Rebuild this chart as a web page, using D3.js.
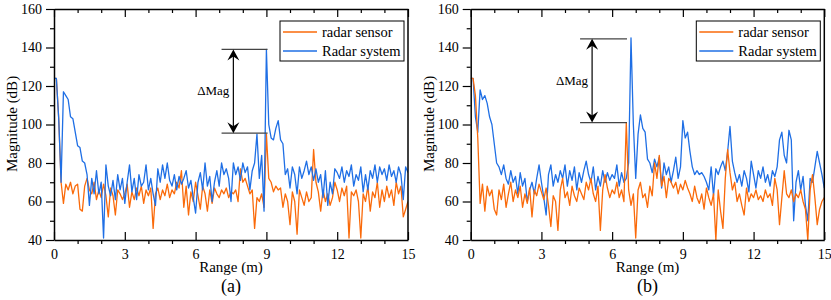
<!DOCTYPE html>
<html>
<head>
<meta charset="utf-8">
<script src="https://cdn.jsdelivr.net/npm/d3@7"></script>
<style>
  body { margin: 0; background: #fff; }
  svg { display: block; }
  svg text { font-family: "Liberation Serif", serif; }
</style>
</head>
<body>
<div id="chart"></div>
<script>
const rangeTicks = [0, 3, 6, 9, 12, 15]
const rangeMinor = [1, 2, 4, 5, 7, 8, 10, 11, 13, 14]
const magTicks = [40, 60, 80, 100, 120, 140, 160]
const magMinor = [50, 70, 90, 110, 130, 150]
const seriesNames = ['radar sensor', 'Radar system']
const panelLabels = ['(a)', '(b)']

// range samples, metres (0.0 ... 15.0 every 0.1 m)
const ranges = d3.range(151).map(i => i / 10)

// magnitude (dB), panel (a)
const sensorA = [
  124,124,103,70,59,69,66,70,64,68,
  69,56,55,68,72,66,64,70,61,66,
  62,69,63,52,67,63,53,66,64,61,
  64,69,57,65,61,67,63,68,59,66,
  63,67,46,64,67,61,66,63,69,62,
  66,64,70,67,76,57,68,53,65,60,
  70,63,56,68,64,55,66,59,67,64,
  62,66,64,67,62,65,64,66,60,77,
  70,72,68,64,66,46,62,60,64,57,
  95,72,70,65,68,66,67,57,64,60,
  48,65,60,43,66,62,58,65,60,62,
  87,70,65,55,66,60,64,58,62,70,
  66,60,67,63,68,41,65,63,66,60,
  41,64,60,68,55,65,62,70,57,66,
  60,68,62,66,58,70,64,68,52,56,
  60
]
const systemA = [
  124,124,103,70,117,115,113,104,103,96,
  89,88,81,80,74,58,72,64,76,64,
  70,41,79,68,63,71,61,74,66,72,
  59,70,79,65,72,61,74,68,70,79,
  66,72,64,58,77,70,79,72,80,71,
  68,74,66,73,69,72,76,67,71,62,
  54,70,75,66,80,68,73,60,70,76,
  68,80,74,77,72,60,80,74,78,71,
  80,75,78,66,76,80,95,72,84,55,
  139,100,93,92,98,102,92,90,74,77,
  67,78,74,64,78,72,76,81,74,78,
  71,77,70,74,62,76,58,70,64,77,
  75,72,78,70,76,73,79,68,74,71,
  78,65,74,66,76,72,79,70,78,74,
  77,71,79,73,76,70,78,74,61,78,
  75
]

// magnitude (dB), panel (b)
const sensorB = [
  124,124,115,93,59,69,55,68,63,66,
  56,53,66,61,69,57,64,70,60,66,
  62,68,57,64,59,67,52,66,63,69,
  65,61,67,58,47,63,60,45,66,72,
  62,65,58,68,63,60,67,64,61,70,
  66,72,64,60,68,45,66,74,67,62,
  66,64,70,62,66,60,101,66,58,64,
  41,66,70,62,64,57,68,63,80,72,
  84,68,73,62,72,70,67,70,64,69,
  66,71,67,64,60,68,62,59,64,56,
  67,62,58,64,40,66,55,46,72,87,
  75,66,70,60,64,58,53,67,60,64,
  62,66,61,63,60,66,62,64,58,72,
  66,48,62,76,64,62,66,60,64,62,
  66,60,56,40,66,74,62,48,56,60,
  62
]
const systemB = [
  124,124,104,96,118,113,115,111,104,100,
  90,80,78,74,79,72,69,76,70,73,
  64,75,68,72,60,66,70,64,72,79,
  70,62,53,74,79,68,74,70,76,72,
  79,68,76,71,78,66,75,70,76,81,
  74,70,78,66,73,68,76,70,75,71,
  74,72,79,68,75,70,72,80,145,100,
  72,95,105,98,96,82,80,75,82,78,
  83,67,80,74,78,70,76,83,72,78,
  102,93,96,86,78,74,76,74,75,73,
  70,66,78,63,77,74,78,81,76,86,
  99,81,75,70,74,68,76,72,65,81,
  74,67,76,72,78,70,74,68,76,73,
  78,92,96,84,80,97,92,50,70,76,
  66,73,58,50,72,70,78,86,80,74,
  67
]

// ΔMag marker: top dB, bottom dB, from m, to m, arrow at m
const deltaA = [139, 95.5, 7.1, 9.05, 7.6]
const deltaB = [144.5, 101, 4.64, 6.63, 5.15]

const orange = '#fa6a0a'
const blue = '#1f6fe5'
const serif = '"Liberation Serif", serif'

const svg = d3.select('#chart').append('svg')
  .attr('width', 831)
  .attr('height', 300)

const panels = [
  { id: 'a', left: 54, right: 408, sensor: sensorA, system: systemA, delta: deltaA, systemOnTop: true, label: panelLabels[0] },
  { id: 'b', left: 470.7, right: 824.3, sensor: sensorB, system: systemB, delta: deltaB, systemOnTop: false, label: panelLabels[1] }
]

panels.forEach(p => {
  const x = d3.scaleLinear().domain([0, 15]).range([p.left, p.right])
  const y = d3.scaleLinear().domain([40, 160]).range([240, 9])
  const g = svg.append('g')

  g.append('clipPath')
    .attr('id', 'clip-' + p.id)
    .append('rect')
      .attr('x', p.left)
      .attr('y', 9)
      .attr('width', p.right - p.left)
      .attr('height', 231)

  const line = d3.line()
    .x((d, i) => x(ranges[i]))
    .y(d => y(d))

  const layers = p.systemOnTop
    ? [[p.sensor, orange], [p.system, blue]]
    : [[p.system, blue], [p.sensor, orange]]

  g.append('g')
    .attr('clip-path', `url(#clip-${p.id})`)
    .selectAll('path')
    .data(layers)
    .join('path')
      .attr('d', d => line(d[0]))
      .attr('fill', 'none')
      .attr('stroke', d => d[1])
      .attr('stroke-width', 1.3)
      .attr('stroke-linejoin', 'round')

  // axes
  const axisStyle = sel => {
    sel.attr('font-family', serif).attr('font-size', 14)
    sel.selectAll('.domain').attr('stroke', '#000').attr('stroke-width', 1.5)
    sel.selectAll('.tick line').attr('stroke', '#000').attr('stroke-width', 1.2)
    sel.selectAll('.tick text').attr('fill', '#000')
  }

  g.append('g')
    .attr('transform', 'translate(0,240)')
    .call(d3.axisBottom(x).tickValues(rangeMinor).tickSize(4).tickSizeOuter(0).tickFormat(''))
    .call(sel => sel.select('.domain').remove())
    .call(axisStyle)
  g.append('g')
    .attr('transform', 'translate(0,240)')
    .call(d3.axisBottom(x).tickValues(rangeTicks).tickSize(-8).tickSizeOuter(0).tickPadding(9))
    .call(axisStyle)

  g.append('g')
    .attr('transform', 'translate(0,9)')
    .call(d3.axisTop(x).tickValues(rangeMinor).tickSize(-4).tickSizeOuter(0).tickFormat(''))
    .call(sel => sel.select('.domain').remove())
    .call(axisStyle)
  g.append('g')
    .attr('transform', 'translate(0,9)')
    .call(d3.axisTop(x).tickValues(rangeTicks).tickSize(-8).tickSizeOuter(0).tickFormat(''))
    .call(axisStyle)

  g.append('g')
    .attr('transform', `translate(${p.left},0)`)
    .call(d3.axisLeft(y).tickValues(magMinor).tickSize(4).tickSizeOuter(0).tickFormat(''))
    .call(sel => sel.select('.domain').remove())
    .call(axisStyle)
  g.append('g')
    .attr('transform', `translate(${p.left},0)`)
    .call(d3.axisLeft(y).tickValues(magTicks).tickSize(8).tickSizeOuter(0).tickPadding(4))
    .call(axisStyle)

  g.append('line')
    .attr('x1', p.right).attr('x2', p.right)
    .attr('y1', 9).attr('y2', 240)
    .attr('stroke', '#000')
    .attr('stroke-width', 1.5)

  // axis titles
  g.append('text')
    .attr('transform', `translate(${p.left - 37},124) rotate(-90)`)
    .attr('text-anchor', 'middle')
    .attr('font-family', serif)
    .attr('font-size', 15)
    .text('Magnitude (dB)')

  g.append('text')
    .attr('x', (p.left + p.right) / 2)
    .attr('y', 272)
    .attr('text-anchor', 'middle')
    .attr('font-family', serif)
    .attr('font-size', 15)
    .text('Range (m)')

  g.append('text')
    .attr('x', (p.left + p.right) / 2)
    .attr('y', 292)
    .attr('text-anchor', 'middle')
    .attr('font-family', serif)
    .attr('font-size', 18)
    .text(p.label)

  // legend
  const lg = g.append('g')
    .attr('transform', `translate(${p.right - 128},21)`)

  lg.append('rect')
    .attr('width', 124)
    .attr('height', 40)
    .attr('fill', '#fff')
    .attr('stroke', '#000')
    .attr('stroke-width', 1)

  const items = lg.selectAll('g')
    .data([[seriesNames[0], orange], [seriesNames[1], blue]])
    .join('g')
      .attr('transform', (d, i) => `translate(0,${11 + i * 19})`)

  items.append('line')
    .attr('x1', 3).attr('x2', 37)
    .attr('stroke', d => d[1])
    .attr('stroke-width', 1.5)

  items.append('text')
    .attr('x', 42)
    .attr('y', 5)
    .attr('font-family', serif)
    .attr('font-size', 14.5)
    .text(d => d[0])

  // ΔMag marker
  const [dTop, dBottom, dFrom, dTo, dAt] = p.delta
  const mk = g.append('g')

  mk.selectAll('line.lvl')
    .data([dTop, dBottom])
    .join('line')
      .attr('class', 'lvl')
      .attr('x1', x(dFrom)).attr('x2', x(dTo))
      .attr('y1', d => y(d)).attr('y2', d => y(d))
      .attr('stroke', '#444')
      .attr('stroke-width', 1.2)

  const ax = x(dAt)
  const y0 = y(dTop)
  const y1 = y(dBottom)

  mk.append('line')
    .attr('x1', ax).attr('x2', ax)
    .attr('y1', y0 + 6).attr('y2', y1 - 6)
    .attr('stroke', '#000')
    .attr('stroke-width', 1.2)

  mk.append('path')
    .attr('d', `M${ax},${y0} L${ax + 6},${y0 + 11} L${ax},${y0 + 7} L${ax - 6},${y0 + 11} Z`)
    .attr('fill', '#000')
  mk.append('path')
    .attr('d', `M${ax},${y1} L${ax + 6},${y1 - 11} L${ax},${y1 - 7} L${ax - 6},${y1 - 11} Z`)
    .attr('fill', '#000')

  mk.append('text')
    .attr('x', ax - 4)
    .attr('y', (y0 + y1) / 2 + 4)
    .attr('text-anchor', 'end')
    .attr('font-family', serif)
    .attr('font-size', 13)
    .text('ΔMag')
})
</script>
</body>
</html>
